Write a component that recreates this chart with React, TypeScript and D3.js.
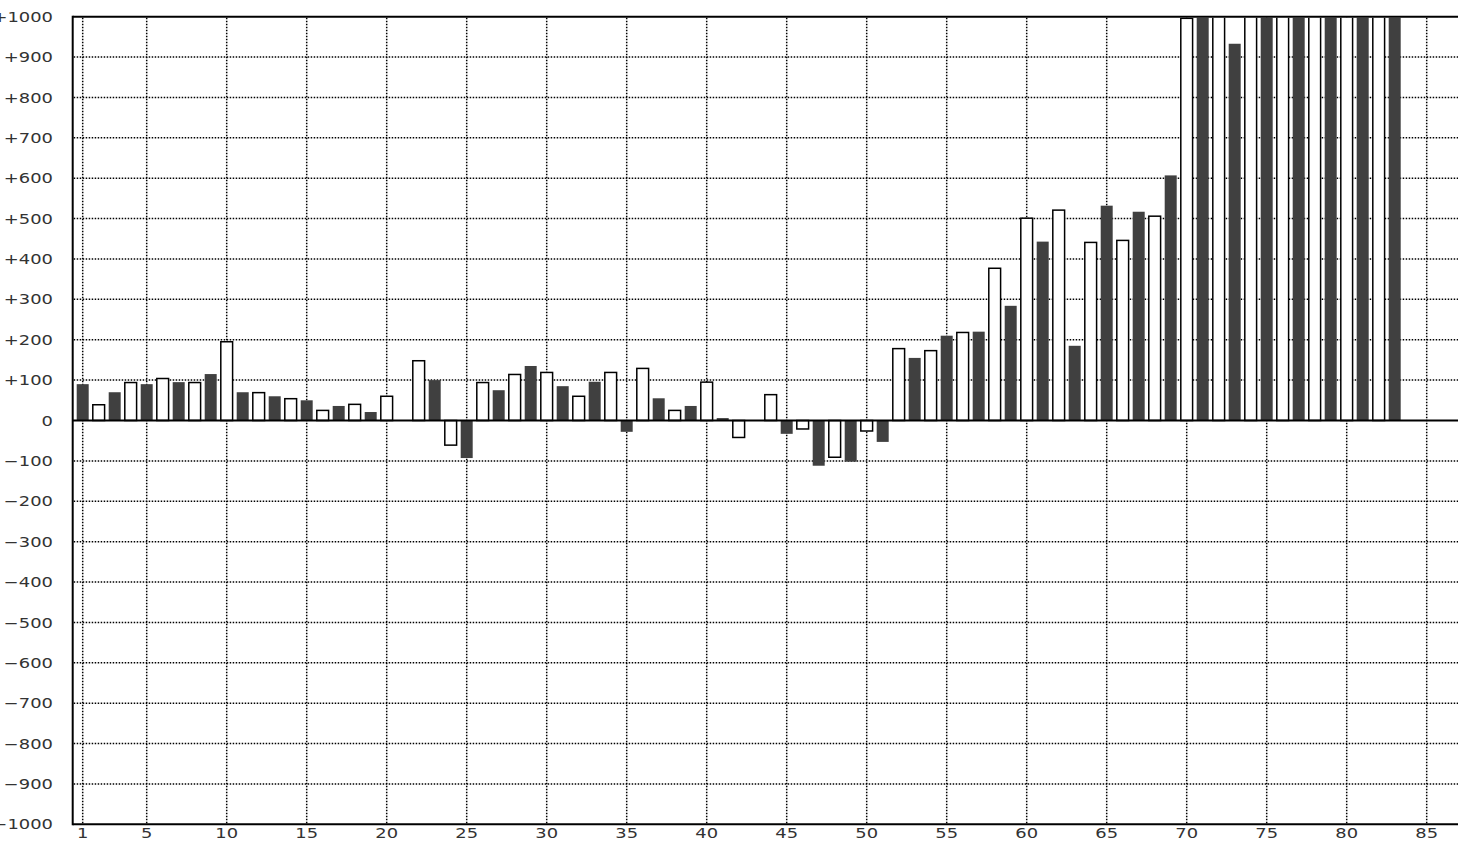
import React from "react";
import * as d3 from "d3";

// Two interleaved series: dark bars at odd positions, outlined white bars at even positions
const darkPositions = d3.range(1, 84, 2);
const darkValues = [
  90, 70, 90, 95, 115, 70, 60, 50, 36, 21,
  0, 100, -93, 75, 135, 85, 96, -28, 55, 36,
  6, 0, -33, -112, -102, -53, 155, 210, 220, 284,
  443, 185, 532, 517, 607, 1100, 933, 1100, 1100, 1100,
  1100, 1100,
];
const lightPositions = d3.range(2, 83, 2);
const lightValues = [
  39, 94, 104, 94, 195, 69, 54, 25, 40, 60,
  148, -61, 94, 114, 119, 60, 119, 129, 25, 95,
  -42, 64, -21, -91, -26, 178, 173, 218, 377, 501,
  521, 441, 446, 506, 996, 1100, 1100, 1100, 1100, 1100,
  1100,
];
const xTicks = [1, 5, 10, 15, 20, 25, 30, 35, 40, 45, 50, 55, 60, 65, 70, 75, 80, 85];
const yTicks = d3.range(-1000, 1001, 100);

const W = 1458;
const H = 844;
const plotLeft = 72.7;
const plotRight = 1460;
const plotTop = 16.7;
const plotBottom = 824.3;

const x = d3.scaleLinear().domain([1, 85]).range([82.7, 1426.7]);
const y = d3.scaleLinear().domain([-1000, 1000]).range([plotBottom, plotTop]);

const fmtY = (v: number) => (v > 0 ? "+" + v : v < 0 ? "\u2212" + Math.abs(v) : "0");

const FONT = "'DejaVu Sans', Verdana, sans-serif";
const SX = 1.28;

export default function App() {
  const barW = 12;
  const dot = { stroke: "#000", strokeWidth: 1.5, strokeDasharray: "1.5 1.5", fill: "none" };
  return (
    <svg
      width={W}
      height={H}
      style={{ position: "absolute", left: 0, top: 0, background: "#fff", overflow: "hidden" }}
    >
      <defs>
        <clipPath id="plotclip">
          <rect x={plotLeft + 1} y={plotTop + 1} width={plotRight - plotLeft} height={plotBottom - plotTop - 2} />
        </clipPath>
      </defs>
      <rect x={0} y={0} width={W} height={H} fill="#fff" />
      {/* grid */}
      <g>
        {yTicks
          .filter((v) => v !== 0 && Math.abs(v) !== 1000)
          .map((v) => (
            <line key={"h" + v} x1={plotLeft + 1} x2={plotRight} y1={y(v)} y2={y(v)} {...dot} />
          ))}
        {xTicks.map((t) => (
          <line key={"v" + t} x1={x(t)} x2={x(t)} y1={plotTop + 1} y2={plotBottom - 1} {...dot} />
        ))}
      </g>
      {/* bars */}
      <g clipPath="url(#plotclip)">
        {darkPositions.map((p, i) => {
          const v = darkValues[i];
          const y0 = y(0);
          const y1 = y(v);
          return (
            <rect
              key={"d" + p}
              x={x(p) - barW / 2}
              y={Math.min(y0, y1)}
              width={barW}
              height={Math.abs(y1 - y0)}
              fill="#404040"
            />
          );
        })}
        {lightPositions.map((p, i) => {
          const v = lightValues[i];
          const y0 = y(0);
          const y1 = y(v);
          return (
            <rect
              key={"l" + p}
              x={x(p) - 5.9}
              y={Math.min(y0, y1)}
              width={11.8}
              height={Math.abs(y1 - y0)}
              fill="#fff"
              stroke="#000"
              strokeWidth={1.5}
            />
          );
        })}
      </g>
      {/* zero line and frame */}
      <line x1={plotLeft} x2={plotRight} y1={y(0)} y2={y(0)} stroke="#000" strokeWidth={2} />
      <line x1={plotLeft} x2={plotRight} y1={plotTop} y2={plotTop} stroke="#000" strokeWidth={2} />
      <line x1={plotLeft} x2={plotRight} y1={plotBottom} y2={plotBottom} stroke="#000" strokeWidth={2} />
      <line x1={plotLeft} x2={plotLeft} y1={plotTop - 1} y2={plotBottom + 1} stroke="#000" strokeWidth={2} />
      {/* labels */}
      <g fontFamily={FONT} fontSize={14} fill="#333">
        {yTicks.map((v) => (
          <text key={"yl" + v} transform={`translate(53,${y(v) + 5.1}) scale(${SX},1)`} textAnchor="end">
            {fmtY(v)}
          </text>
        ))}
        {xTicks.map((t) => (
          <text key={"xl" + t} transform={`translate(${x(t)},${838}) scale(${SX},1)`} textAnchor="middle">
            {t}
          </text>
        ))}
      </g>
    </svg>
  );
}
